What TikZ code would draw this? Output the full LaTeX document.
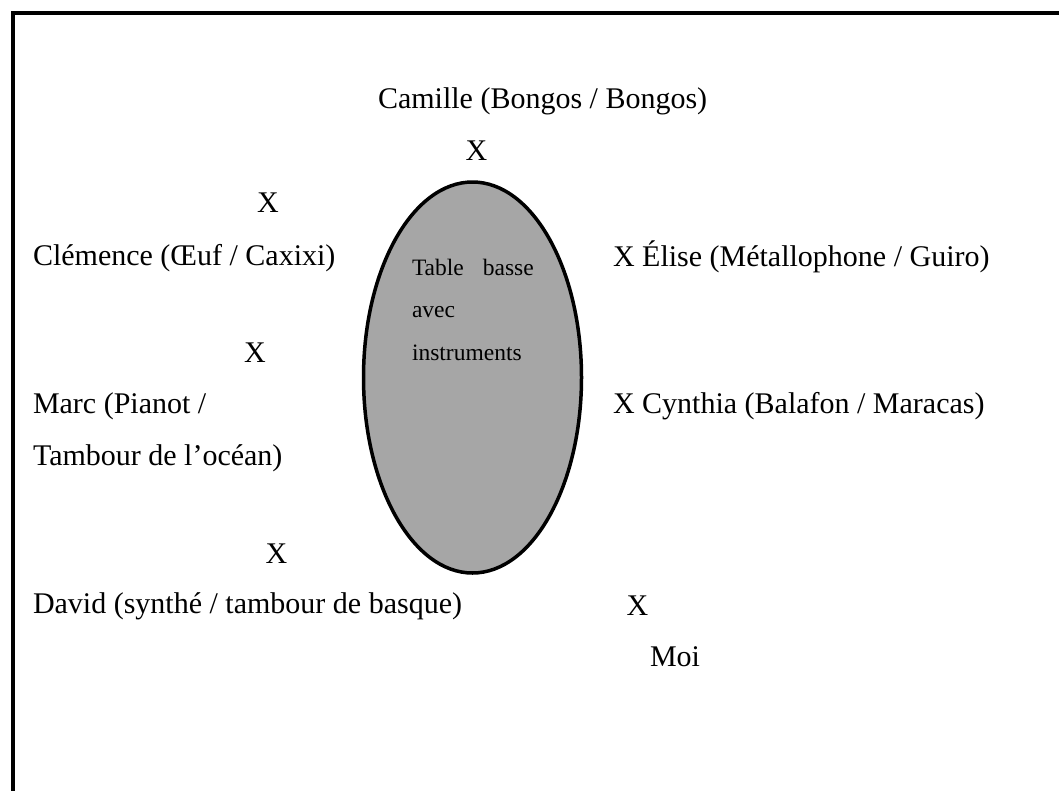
\documentclass[tikz,border=0pt]{standalone}
\usepackage{fontspec}
\setmainfont{Liberation Serif}
\definecolor{tablegray}{HTML}{A6A6A6}
\begin{document}
\begin{tikzpicture}[x=1pt,y=-1pt,
  lbl/.style={inner sep=0pt,outer sep=0pt,anchor=base west,font=\fontsize{30}{36}\selectfont},
  xsign/.style={inner sep=0pt,outer sep=0pt,anchor=base,font=\fontsize{30}{36}\selectfont},
  tbl/.style={inner sep=0pt,outer sep=0pt,anchor=base west,font=\fontsize{23.5}{28}\selectfont}]
\useasboundingbox (0,0) rectangle (1059,790);
\fill[white] (0,0) rectangle (1059,790);
% frame (left and top visible)
\draw[line width=3.5pt] (13,792) -- (13,13) -- (1061,13);
% coffee table
\draw[line width=3.5pt,fill=tablegray] (472.5,377.5) ellipse[x radius=109,y radius=195.5];
\node[tbl] (t1) at (412,275) {Table\hspace{19pt}basse};
\node[tbl] (t2) at (412,317) {avec};
\node[tbl] (t3) at (412,360) {instruments};
% people
\node[lbl] (camille) at (378,108) {Camille (Bongos / Bongos)};
\node[xsign] (xcamille) at (476.5,160) {X};
\node[xsign] (xclemence) at (268,212) {X};
\node[lbl] (clemence) at (33,265) {Clémence (Œuf / Caxixi)};
\node[lbl] (elise) at (613,266) {X Élise (Métallophone / Guiro)};
\node[xsign] (xmarc) at (255,362) {X};
\node[lbl] (marc) at (33,413) {Marc (Pianot /};
\node[lbl] (cynthia) at (613,413) {X Cynthia (Balafon / Maracas)};
\node[lbl] (marc2) at (33,465) {Tambour de l’océan)};
\node[xsign] (xdavid) at (276.5,563) {X};
\node[lbl] (david) at (33,613) {David (synthé / tambour de basque)};
\node[xsign] (xmoi) at (637.5,615) {X};
\node[lbl] (moi) at (650,666) {Moi};
\end{tikzpicture}
\end{document}
